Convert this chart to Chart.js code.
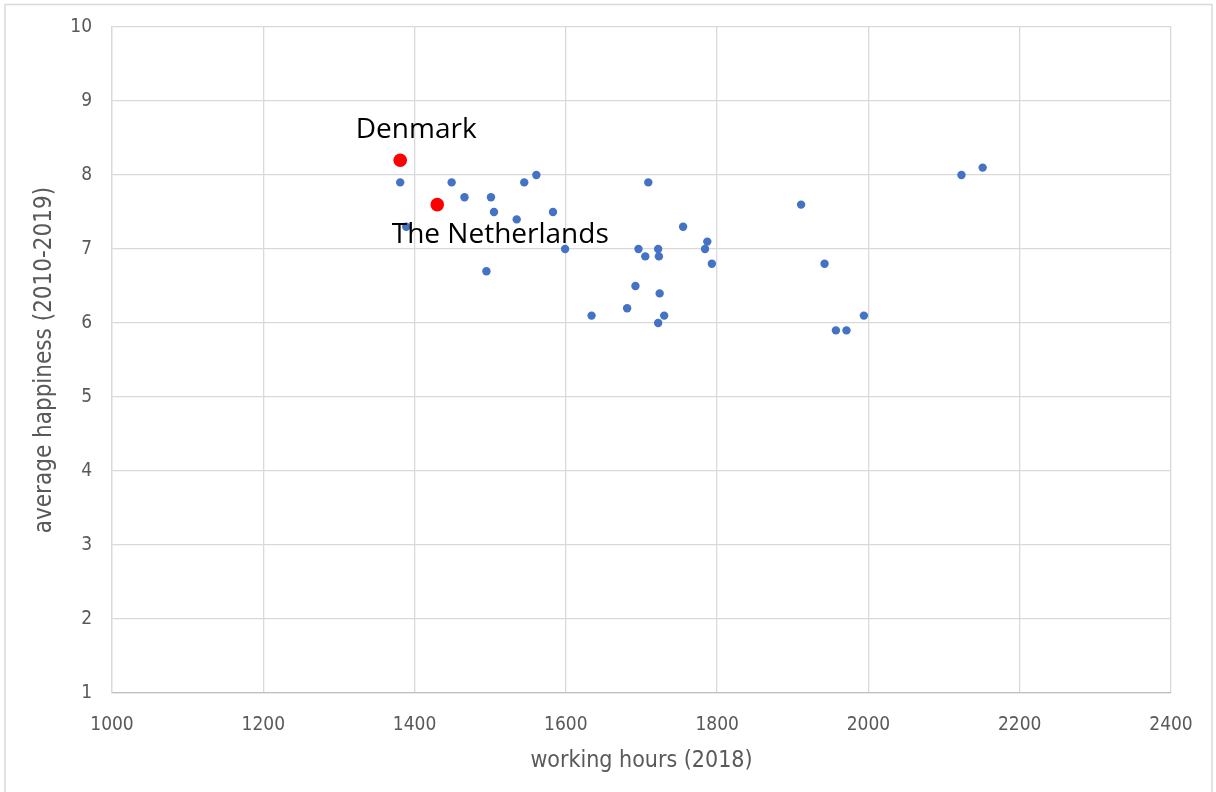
<!DOCTYPE html>
<html>
<head>
<meta charset="utf-8">
<script src="https://cdn.jsdelivr.net/npm/chart.js@4"></script>
<style>
  html, body { margin: 0; padding: 0; background: #fff; }
  #wrap { width: 1216px; height: 792px; position: relative; }
</style>
</head>
<body>
<div id="wrap"><canvas id="hoursChart" width="1216" height="792"></canvas></div>
<script>
// working hours (2018) vs average happiness (2010-2019)
const otherHours = [1381, 1449, 1466, 1501, 1505, 1535, 1545, 1561, 1583, 1389, 1599, 1495,
    1709, 1755, 1787, 1784, 1696, 1722, 1705, 1723, 1793, 1692, 1724, 1681, 1634, 1730, 1722,
    1911, 1942, 1994, 1957, 1971, 2123, 2151];
const otherHappiness = [7.9, 7.9, 7.7, 7.7, 7.5, 7.4, 7.9, 8.0, 7.5, 7.3, 7.0, 6.7,
    7.9, 7.3, 7.1, 7.0, 7.0, 7.0, 6.9, 6.9, 6.8, 6.5, 6.4, 6.2, 6.1, 6.1, 6.0,
    7.6, 6.8, 6.1, 5.9, 5.9, 8.0, 8.1];
const highlightNames = ['Denmark', 'The Netherlands'];
const highlightHours = [1381, 1430];
const highlightHappiness = [8.2, 7.6];
const xTicks = [1000, 1200, 1400, 1600, 1800, 2000, 2200, 2400];
const yTicks = [1, 2, 3, 4, 5, 6, 7, 8, 9, 10];

const grey = '#595959';
const font = "'Liberation Sans Narrow', 'DejaVu Sans Condensed', 'Liberation Sans', sans-serif";

const frame = {
    id: 'frame',
    beforeDraw(chart) {
        const c = chart.ctx;
        c.save();
        c.fillStyle = '#fff';
        c.fillRect(0, 0, chart.width, chart.height);
        c.strokeStyle = '#d9d9d9';
        c.lineWidth = 1.5;
        c.strokeRect(5, 4.5, 1207, 800);
        c.restore();
    }
};

// country names next to the red points
const countryLabels = {
    id: 'countryLabels',
    afterDatasetsDraw(chart) {
        const c = chart.ctx;
        const xs = chart.scales.x, ys = chart.scales.y;
        c.save();
        c.fillStyle = '#000';
        c.font = "28px 'Open Sans', 'Liberation Sans', sans-serif";
        c.textBaseline = 'middle';
        c.textAlign = 'center';
        // Denmark above its point
        c.fillText(highlightNames[0], xs.getPixelForValue(highlightHours[0]) + 16, ys.getPixelForValue(highlightHappiness[0]) - 30);
        // The Netherlands below its point
        c.fillText(highlightNames[1], xs.getPixelForValue(highlightHours[1]) + 63, ys.getPixelForValue(highlightHappiness[1]) + 30);
        c.restore();
    }
};

const ctx = document.getElementById('hoursChart').getContext('2d');
new Chart(ctx, {
    type: 'scatter',
    data: {
        datasets: [{
            label: 'countries',
            data: otherHours.map((h, i) => ({ x: h, y: otherHappiness[i] })),
            backgroundColor: '#4472C4',
            borderColor: '#4472C4',
            pointRadius: 4.2,
            borderWidth: 0,
            order: 2
        }, {
            label: 'highlight',
            data: highlightHours.map((h, i) => ({ x: h, y: highlightHappiness[i] })),
            backgroundColor: '#FF0000',
            borderColor: '#FF0000',
            pointRadius: 6.8,
            borderWidth: 0,
            order: 1
        }]
    },
    options: {
        responsive: false,
        animation: false,
        layout: { padding: { left: 0, right: 45, top: 27, bottom: 0 } },
        plugins: {
            legend: { display: false },
            tooltip: { enabled: false }
        },
        scales: {
            x: {
                type: 'linear',
                min: xTicks[0],
                max: xTicks[xTicks.length - 1],
                afterBuildTicks: s => { s.ticks = xTicks.map(v => ({ value: v })); },
                afterFit: s => { s.height = 99; },
                grid: { color: '#d9d9d9', lineWidth: 1.3, drawTicks: false },
                border: { color: '#bfbfbf', width: 1.3 },
                ticks: { color: grey, padding: 21, font: { family: font, size: 19 }, callback: v => String(v) },
                title: {
                    display: true,
                    text: 'working hours (2018)',
                    color: grey,
                    padding: { top: 0, bottom: 17 },
                    font: { family: font, size: 23 }
                }
            },
            y: {
                type: 'linear',
                min: yTicks[0],
                max: yTicks[yTicks.length - 1],
                afterBuildTicks: s => { s.ticks = yTicks.map(v => ({ value: v })); },
                afterFit: s => { s.width = 112; s.paddingTop = 0; s.paddingBottom = 0; },
                grid: { color: '#d9d9d9', lineWidth: 1.3, drawTicks: false },
                border: { color: '#d9d9d9', width: 1.3 },
                ticks: { color: grey, padding: 20, font: { family: font, size: 19 }, callback: v => String(v) },
                title: {
                    display: true,
                    text: 'average happiness (2010-2019)',
                    color: grey,
                    padding: { top: 30, bottom: 0 },
                    font: { family: font, size: 24 }
                }
            }
        }
    },
    plugins: [frame, countryLabels]
});
</script>
</body>
</html>
